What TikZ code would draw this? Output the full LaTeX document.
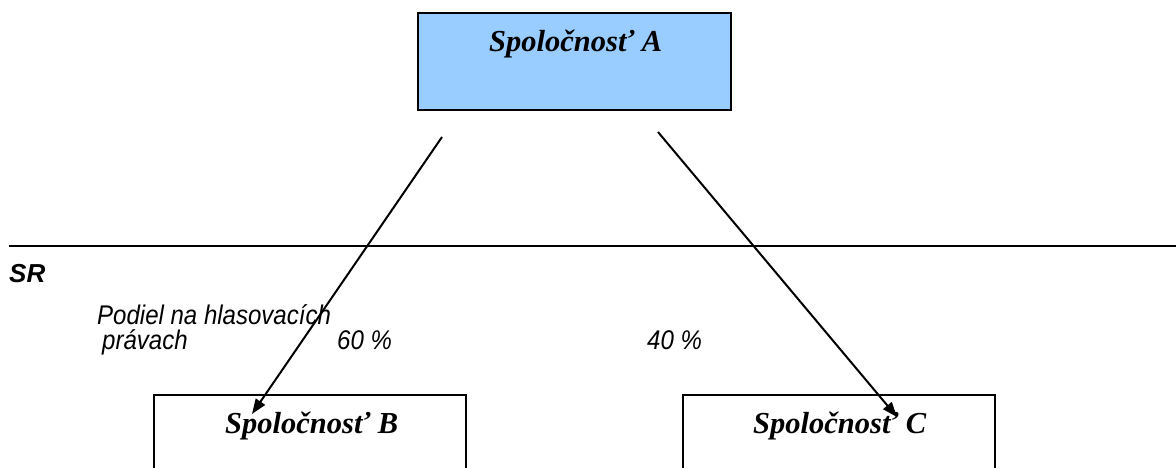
\documentclass[tikz,border=0pt]{standalone}
\usepackage{fontspec}
\setmainfont{Liberation Serif}
\setsansfont{Liberation Sans}
\newfontfamily\narrowsans[FakeStretch=0.89]{Liberation Sans}
\usetikzlibrary{arrows.meta}
\definecolor{boxblue}{HTML}{99CCFF}
\tikzset{
  company/.style={draw=black, line width=2pt, anchor=north west, inner sep=0pt},
  ctitle/.style={anchor=base west, inner sep=0pt, font=\fontsize{30.5}{36}\selectfont\bfseries\itshape},
  note/.style={anchor=base west, inner sep=0pt, font=\fontsize{27}{30}\selectfont\narrowsans\itshape},
  share/.style={-{Triangle[length=15pt,width=11pt]}, line width=2pt},
  border/.style={line width=1.8pt}
}
\begin{document}
\begin{tikzpicture}[x=1pt,y=-1pt]
\useasboundingbox (0,0) rectangle (1176,468);
\clip (0,0) rectangle (1176,468);
% boxes
\node[company, fill=boxblue, minimum width=313pt, minimum height=97pt] (A) at (417,12) {};
\node[company, minimum width=312pt, minimum height=100pt] (B) at (153,394) {};
\node[company, minimum width=312pt, minimum height=100pt] (C) at (682,394) {};
% titles
\node[ctitle] (tA) at (489,52) {Spoločnosť A};
\node[ctitle] (tB) at (225,433) {Spoločnosť B};
\node[ctitle] (tC) at (753,433) {Spoločnosť C};
% border line
\coordinate (bl) at (9,246);
\coordinate (br) at (1176,246);
\draw[border] (bl) -- (br);
\node[anchor=base west, inner sep=0pt, font=\fontsize{26}{30}\selectfont\sffamily\bfseries\itshape] (sr) at (9,282) {SR};
% notes
\node[note] (n1) at (97,324) {Podiel na hlasovacích};
\node[note] (n2) at (102,349) {právach};
\node[note] (p60) at (337,349) {60 \%};
\node[note] (p40) at (647,349) {40 \%};
% arrows
\coordinate (s1) at (442,137);
\coordinate (e1) at (252,414);
\coordinate (s2) at (658,132);
\coordinate (e2) at (897,417);
\draw[share] (s1) -- (e1);
\draw[share] (s2) -- (e2);
\end{tikzpicture}
\end{document}
